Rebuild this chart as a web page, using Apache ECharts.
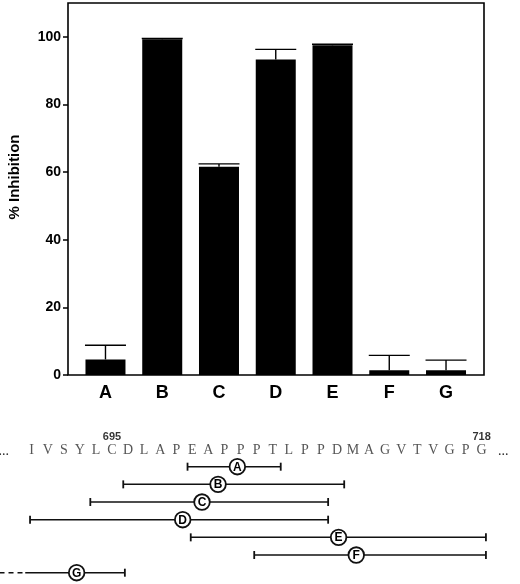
<!DOCTYPE html>
<html>
<head>
<meta charset="utf-8">
<script src="https://cdn.jsdelivr.net/npm/echarts@6/dist/echarts.min.js"></script>
<style>
html,body{margin:0;padding:0;background:#fff;}
#chart{width:520px;height:584px;}
</style>
</head>
<body>
<div id="chart"></div>
<script>
// ---- bar chart data ----
const peptides = ['A', 'B', 'C', 'D', 'E', 'F', 'G'];
const inhibition = [4.6, 99.3, 61.6, 93.3, 97.5, 1.4, 1.4];
const errorTop = [8.8, 99.5, 62.4, 96.3, 97.8, 5.8, 4.4];
const yTicks = [0, 20, 40, 60, 80, 100];

// ---- sequence map data ----
const sequence = ['I','V','S','Y','L','C','D','L','A','P','E','A','P','P','P','T','L','P','P','D','M','A','G','V','T','V','G','P','G'];
const firstResidue = 690;
const markedResidues = [695, 718];
const rangeStart = [699.7, 695.7, 693.65, 689.9, 699.9, 703.85, 689.6];
const rangeEnd = [705.5, 709.45, 708.45, 708.45, 718.27, 718.27, 695.8];
const circleAt = [702.8, 701.6, 700.6, 699.4, 709.1, 710.2, 692.8];
const dashedFrom = [null, null, null, null, null, null, 688.0];

const chart = echarts.init(document.getElementById('chart'), null, {renderer: 'canvas'});
const SANS = 'Liberation Sans, Arial, Helvetica, sans-serif';
const SERIF = 'Liberation Serif, serif';

const seqData = sequence.map((s, i) => ({value: [firstResidue + i, -0.906], name: s}));
const markData = markedResidues.map(r => ({value: [r, -1.69], name: String(r)}));
const rangeData = peptides.map((p, i) => ({
  value: [rangeStart[i], rangeEnd[i], circleAt[i], i, dashedFrom[i] == null ? NaN : dashedFrom[i]],
  name: p
}));
const errData = peptides.map((p, i) => [i, inhibition[i], errorTop[i]]);

const option = {
  backgroundColor: '#fff',
  animation: false,
  grid: [
    {left: 77.1, right: 45.6, top: 3, bottom: 209},
    {left: 68, right: 36, top: 3, bottom: 209, show: true, borderColor: '#000', borderWidth: 1.6, backgroundColor: 'transparent'},
    {left: 0, right: 0, top: 420, bottom: 0}
  ],
  xAxis: [
    {gridIndex: 0, type: 'category', data: peptides, boundaryGap: true,
     axisLine: {show: false}, axisTick: {show: false}, splitLine: {show: false},
     axisLabel: {color: '#000', fontFamily: SANS, fontWeight: 'bold', fontSize: 18, margin: 9}},
    {gridIndex: 1, type: 'value', min: 0, max: 1, show: false},
    {gridIndex: 2, type: 'value', min: 688.03, max: 720.39, show: false}
  ],
  yAxis: [
    {gridIndex: 0, type: 'value', min: 0, max: 110, show: false},
    {gridIndex: 1, type: 'value', min: 0, max: 110,
     axisLine: {show: false}, splitLine: {show: false},
     axisTick: {show: true, inside: false, length: 5, lineStyle: {color: '#000', width: 1.5}, customValues: yTicks},
     axisLabel: {color: '#000', fontFamily: SANS, fontWeight: 'bold', fontSize: 14, margin: 7, customValues: yTicks}},
    {gridIndex: 2, type: 'value', min: -2.643, max: 6.64, inverse: true, show: false}
  ],
  graphic: [
    {type: 'text', x: 15, y: 177, rotation: Math.PI / 2,
     style: {text: '% Inhibition', fill: '#000', font: 'bold 15px ' + SANS, align: 'center', verticalAlign: 'middle'}},
    {type: 'text', x: 9, y: 451,
     style: {text: '...', fill: '#2a2a2a', font: '14px ' + SERIF, align: 'right', verticalAlign: 'middle'}},
    {type: 'text', x: 498, y: 451,
     style: {text: '...', fill: '#2a2a2a', font: '14px ' + SERIF, align: 'left', verticalAlign: 'middle'}}
  ],
  series: [
    {type: 'bar', xAxisIndex: 0, yAxisIndex: 0, data: inhibition, barWidth: 40,
     itemStyle: {color: '#000'}, z: 3},
    {type: 'custom', xAxisIndex: 0, yAxisIndex: 0, data: errData, z: 4,
     renderItem: function (params, api) {
       const x = api.value(0);
       const base = api.coord([x, api.value(1)]);
       const top = api.coord([x, api.value(2)]);
       const hw = 20.5;
       return {type: 'group', children: [
         {type: 'line', shape: {x1: base[0], y1: base[1], x2: top[0], y2: top[1]}, style: {stroke: '#000', lineWidth: 1.4}},
         {type: 'line', shape: {x1: top[0] - hw, y1: top[1], x2: top[0] + hw, y2: top[1]}, style: {stroke: '#000', lineWidth: 1.3}}
       ]};
     }},
    {type: 'scatter', xAxisIndex: 2, yAxisIndex: 2, data: seqData, symbolSize: 0, silent: true,
     label: {show: true, position: 'inside', formatter: p => p.name, color: '#2a2a2a',
             fontFamily: SERIF, fontSize: 14}},
    {type: 'scatter', xAxisIndex: 2, yAxisIndex: 2, data: markData, symbolSize: 0, silent: true,
     label: {show: true, position: 'inside', formatter: p => p.name, color: '#000',
             fontFamily: SANS, fontWeight: 'bold', fontSize: 11}},
    {type: 'custom', xAxisIndex: 2, yAxisIndex: 2, data: rangeData, silent: true,
     renderItem: function (params, api) {
       const row = api.value(3);
       const s = api.coord([api.value(0), row]);
       const e = api.coord([api.value(1), row]);
       const c = api.coord([api.value(2), row]);
       const d = api.value(4);
       const stroke = '#111';
       const children = [
         {type: 'line', shape: {x1: s[0], y1: s[1], x2: e[0], y2: e[1]}, style: {stroke: stroke, lineWidth: 1.5}},
         {type: 'line', shape: {x1: e[0], y1: e[1] - 4, x2: e[0], y2: e[1] + 4}, style: {stroke: stroke, lineWidth: 1.8}}
       ];
       if (isNaN(d)) {
         children.push({type: 'line', shape: {x1: s[0], y1: s[1] - 4, x2: s[0], y2: s[1] + 4}, style: {stroke: stroke, lineWidth: 1.8}});
       } else {
         const ds = api.coord([d, row]);
         children.push({type: 'line', shape: {x1: ds[0], y1: ds[1], x2: s[0], y2: s[1]}, style: {stroke: stroke, lineWidth: 1.5, lineDash: [5, 4]}});
       }
       children.push({type: 'circle', shape: {cx: c[0], cy: c[1], r: 7.8}, style: {fill: '#fff', stroke: stroke, lineWidth: 1.8}});
       children.push({type: 'text', x: c[0], y: c[1] + 0.5,
         style: {text: peptides[params.dataIndex], fill: '#000', font: 'bold 12px ' + SANS, align: 'center', verticalAlign: 'middle'}});
       return {type: 'group', children: children};
     }}
  ]
};
chart.setOption(option);
</script>
</body>
</html>
